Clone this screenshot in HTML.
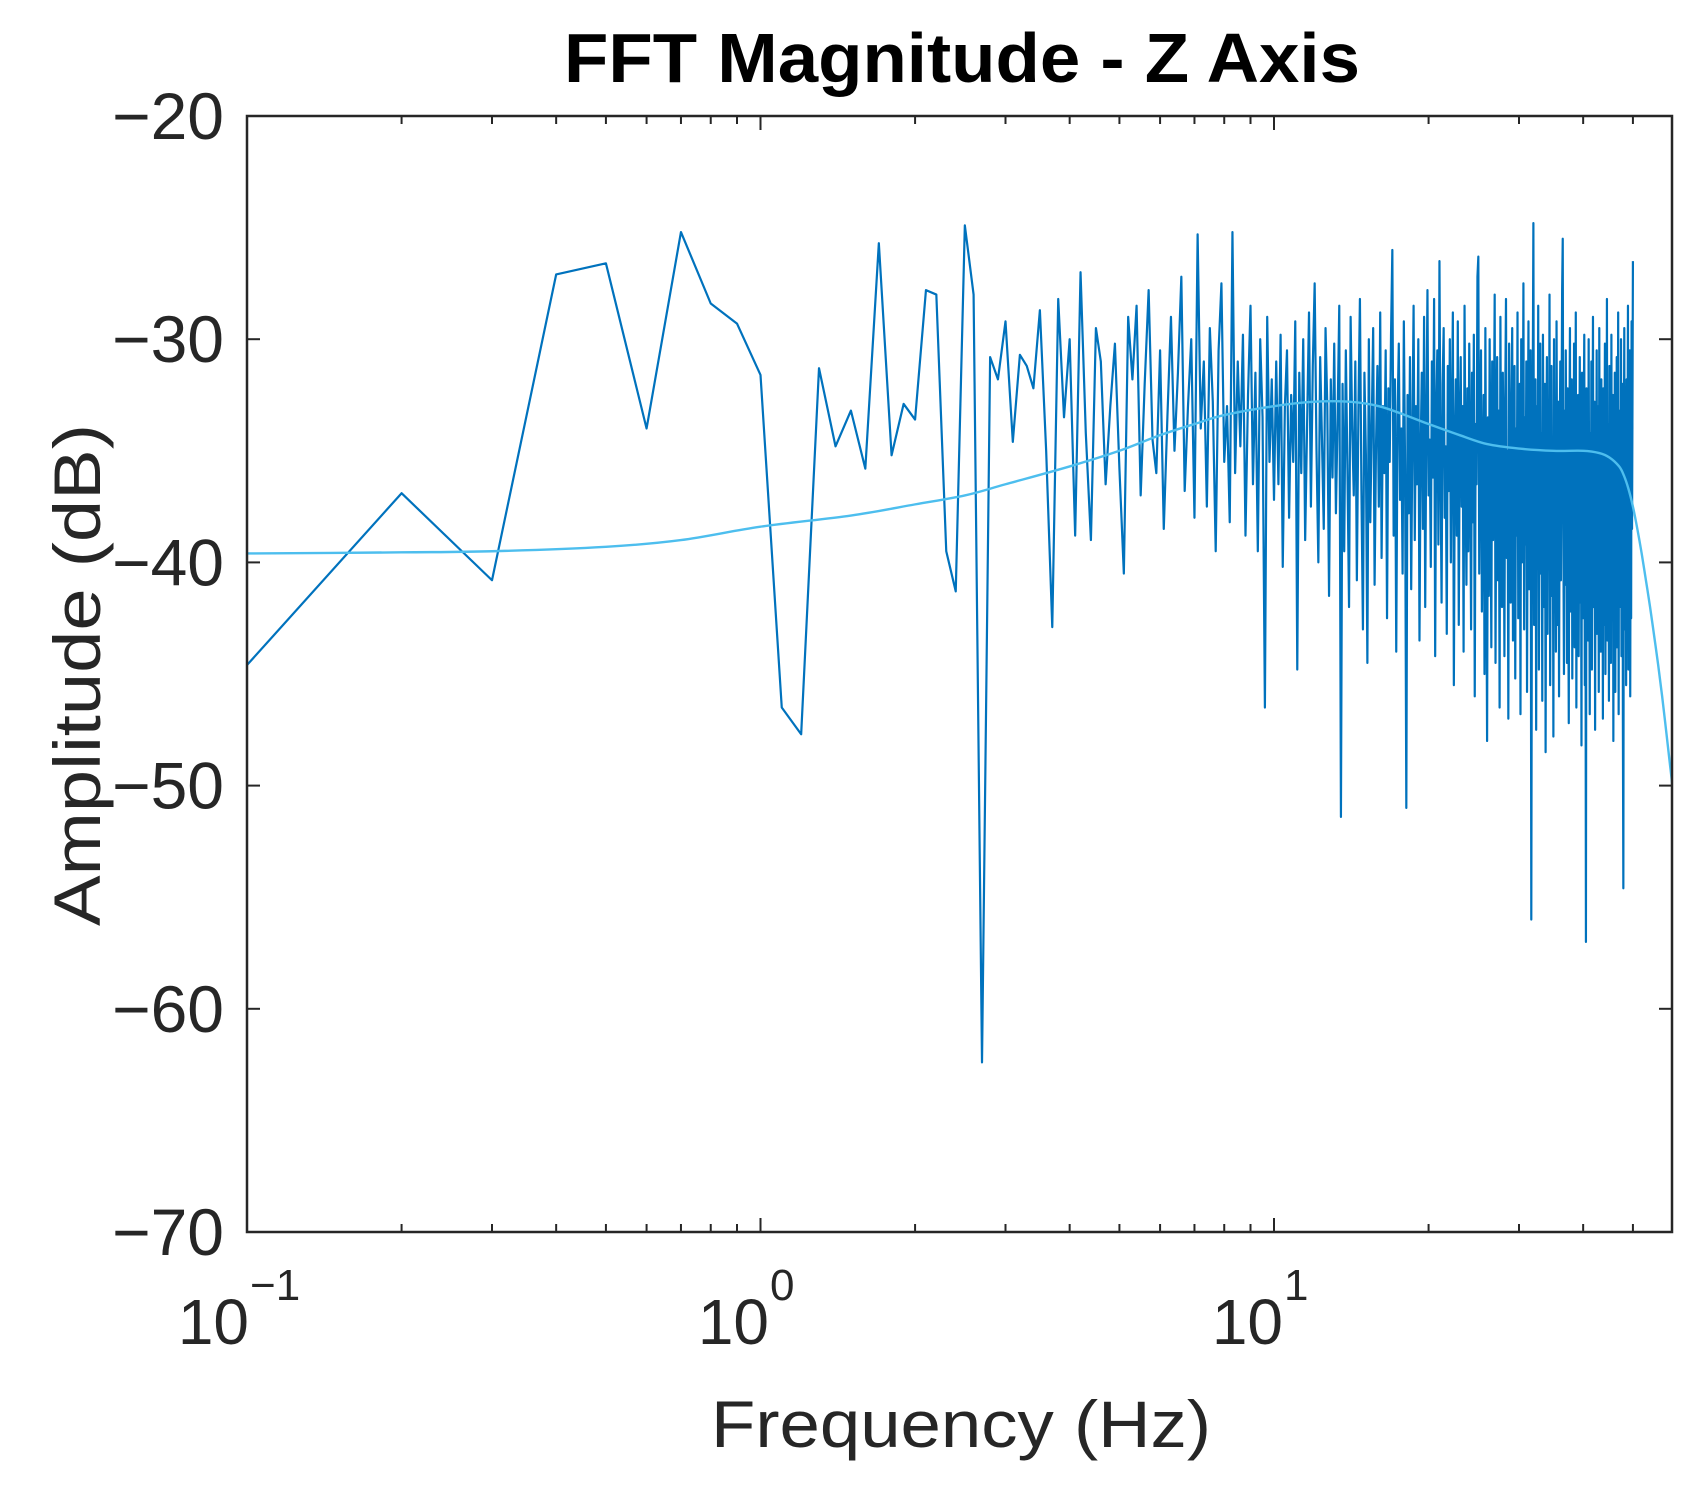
<!DOCTYPE html>
<html><head><meta charset="utf-8"><title>FFT Magnitude - Z Axis</title>
<style>html,body{margin:0;padding:0;background:#fff}svg{display:block}text{font-family:"Liberation Sans",Arial,sans-serif;fill:#262626}</style>
</head><body>
<svg id="chart" width="1704" height="1494" viewBox="0 0 1704 1494" xmlns="http://www.w3.org/2000/svg">
<defs><clipPath id="clip"><rect x="247" y="116" width="1425" height="1116"/></clipPath></defs>
<rect x="0" y="0" width="1704" height="1494" fill="#fff"/>
<text x="962" y="82" text-anchor="middle" font-size="70" font-weight="bold" textLength="796" lengthAdjust="spacingAndGlyphs" style="fill:#000">FFT Magnitude - Z Axis</text>
<g id="ticks"></g>
<g clip-path="url(#clip)">
<path id="fftLine" fill="none" stroke="#0072BD" stroke-width="2.2" stroke-linejoin="round"/>
<path id="filterLine" fill="none" stroke="#4DBEEE" stroke-width="2.4"/>
</g>
<rect x="247" y="116" width="1425" height="1116" fill="none" stroke="#262626" stroke-width="2.5"/>
<g id="ylabels"></g>
<g>
<text x="249" y="1344" text-anchor="end" font-size="64">10</text>
<text x="250" y="1300" font-size="44">−1</text>
<text x="769" y="1344" text-anchor="end" font-size="64">10</text>
<text x="770" y="1300" font-size="44">0</text>
<text x="1283" y="1344" text-anchor="end" font-size="64">10</text>
<text x="1284" y="1300" font-size="44">1</text>
</g>
<text x="961" y="1447" text-anchor="middle" font-size="66" textLength="500" lengthAdjust="spacingAndGlyphs">Frequency (Hz)</text>
<text transform="translate(100,675) rotate(-90)" text-anchor="middle" font-size="66" textLength="502" lengthAdjust="spacingAndGlyphs">Amplitude (dB)</text>
</svg>
<script>
const yTicks = [-20,-30,-40,-50,-60,-70];
const yTickLabels = ["−20","−30","−40","−50","−60","−70"];
const xMajorTicks = [0.1,1,10];
const xMinorTicks = [0.2,0.3,0.4,0.5,0.6,0.7,0.8,0.9,2,3,4,5,6,7,8,9,20,30,40,50];
const freqStep = 0.1;
const fftDb = [
-44.6,-36.9,-40.8,-27.1,-26.6,-34.0,-25.2,-28.4,-29.3,-31.6,-46.5,-47.7,-31.3,-34.8,-33.2,-35.8,-25.7,-35.2,-32.9,-33.6,-27.8,-28.0,-39.5,-41.3,-24.9,-28.0,-62.4,-30.8,-31.8,-29.2,-34.6,-30.7,-31.2,-32.2,-28.7,-35.0,-42.9,-28.2,
-33.5,-30.0,-38.8,-27.0,-34.2,-39.0,-29.5,-31.0,-36.5,-33.0,
-30.2,-35.8,-40.5,-29.0,-31.8,-28.5,-37.0,-32.0,-27.8,-34.5,
-36.0,-30.5,-38.5,-33.5,-29.0,-35.0,-31.5,-27.2,-36.8,-33.0,
-30.0,-38.0,-25.3,-34.0,-31.0,-37.5,-29.5,-32.8,-39.5,-30.5,
-27.5,-35.5,-33.0,-38.2,-25.2,-36.0,-31.0,-34.8,-29.8,-38.8,
-32.5,-28.5,-36.5,-31.5,-39.5,-30.0,-33.5,-46.5,-29.0,-35.5,
-31.8,-37.2,
-31.0,-36.5,-29.8,-40.2,-33.0,-30.5,-38.0,-32.5,-35.5,-29.2,
-44.8,-31.5,-36.0,-30.0,-39.0,-33.8,-28.8,-37.5,-31.2,-27.5,
-35.0,-40.0,-30.8,-34.5,-38.5,-29.5,-33.0,-41.5,-31.8,-36.2,
-30.2,-37.8,-33.5,-28.5,-51.4,-32.0,-39.5,-30.5,-35.8,-42.0,
-29.0,-34.0,-37.0,-31.0,-40.8,-33.2,-28.2,-36.8,-43.0,-31.5,
-35.2,-44.5,-30.0,-38.2,-33.8,-29.5,-41.0,-34.8,-31.2,-37.5,
-28.8,-39.8,-33.0,-36.0,-30.5,-42.5,-32.2,-35.5,-29.8,-26.0,
-38.8,-31.8,-44.0,-33.5,-30.2,-37.2,-34.0,-40.5,-29.2,-35.8,
-51.0,-32.5,-37.8,-30.8,-41.2,-34.2,-28.5,-39.0,-33.0,-36.5,
-30.0,-43.5,-35.0,-31.5,-38.5,-29.0,-42.0,-33.8,-27.8,-37.0,
-34.5,-40.2,-31.0,-36.2,-28.2,-44.2,-33.2,-30.5,-39.2,-26.5,
-35.8,-41.8,-32.0,-29.5,-38.0,-34.8,-43.2,-31.2,-36.8,-30.0,
-40.0,-33.5,-28.8,-45.5,-35.0,-31.8,-38.8,-29.2,-42.8,-34.0,
-30.8,-37.5,-33.0,-44.0,-28.5,-36.0,-41.0,-32.2,-39.5,-30.2,
-35.5,-43.0,-31.5,-38.2,-29.8,-46.0,-33.8,-36.5,-27.2,-26.3,
-40.5,-34.2,-30.5,-42.2,-37.0,-32.5,-45.0,-29.5,-38.5,-48.0,
-33.5,-41.5,-30.0,-36.8,-43.8,-31.0,-39.0,-34.5,-28.0,-44.5,
-35.8,-30.8,-40.8,-33.2,-46.5,-29.0,-38.0,-42.0,-31.5,-36.0,
-44.2,-32.8,-28.2,-39.8,-35.0,-47.0,-30.2,-37.2,-41.8,-33.0,
-29.5,-43.5,-36.2,-31.2,-45.2,-34.0,-38.8,-28.8,-42.5,-35.2,
-32.0,-46.8,-30.0,-40.0,-36.5,-27.5,-43.0,-33.5,-39.2,-31.0,
-45.8,-35.5,-29.2,-41.2,-34.8,-30.5,-56.0,-37.8,-32.5,-24.8,
-42.8,-36.0,-31.8,-47.5,-33.0,-39.5,-28.5,-44.8,-35.2,-30.2,
-40.5,-34.2,-46.2,-29.8,-37.5,-42.0,-32.0,-48.5,-35.8,-30.8,
-43.2,-33.8,-38.2,-28.0,-45.5,-36.8,-31.2,-41.5,-34.5,-47.8,
-30.0,-39.8,-35.0,-44.0,-29.2,-37.0,-42.8,-32.8,-46.0,-35.5,
-31.0,-40.8,-34.0,-27.8,-25.5,-38.5,-45.0,-33.2,-41.0,-30.5,
-36.2,-44.5,-32.2,-39.0,-47.2,-34.8,-29.5,-42.2,-37.8,-31.8,
-45.2,-35.2,-40.2,-30.2,-43.8,-36.5,-28.8,-46.5,-33.5,-39.2,
-32.5,-44.2,-37.2,-30.8,-41.8,-35.8,-48.2,-31.5,-38.0,-42.5,
-33.8,-29.8,-45.5,-36.0,-57.0,-32.2,-40.0,-35.0,-43.5,-30.0,
-38.8,-46.8,-34.2,-41.2,-31.0,-44.8,-36.8,-29.0,-42.0,-37.5,
-32.8,-47.5,-35.5,-40.5,-30.5,-43.2,-38.2,-33.0,-45.8,-29.5,
-41.5,-36.2,-44.0,-31.8,-39.5,-34.5,-47.0,-32.2,-42.8,-37.0,
-30.2,-45.0,-35.8,-40.8,-28.2,-43.5,-38.5,-33.8,-46.2,-31.2,
-39.8,-35.2,-44.5,-29.8,-42.2,-37.2,-32.5,-48.0,-34.8,-40.2,
-31.5,-45.8,-36.5,-41.5,-30.8,-43.8,-38.0,-28.8,-46.8,-33.2,
-42.0,-35.5,-39.0,-30.0,-44.2,-37.5,-32.0,-47.2,-54.6,-36.0,
-29.5,-43.0,-38.8,-33.5,-45.5,-31.8,-41.0,-36.8,-28.5,-44.8,
-34.2,-40.5,-30.5,-46.0,-35.0,-42.5,-29.2,-38.5,-33.0,-26.5
];
const filterFreq = [0.1,0.2,0.3,0.5,0.7,1,1.5,2,2.5,3,4,5,6,7,8,10,12,14,16,18,20,23,26,30,35,40,43,45,47,48,49,50,51,52,53,54,55,56,57,58,59,60,62];
const filterDb = [-39.6,-39.55,-39.5,-39.3,-39.0,-38.4,-37.9,-37.4,-37.0,-36.5,-35.7,-35.0,-34.3,-33.8,-33.4,-33.0,-32.8,-32.8,-33.0,-33.4,-33.8,-34.3,-34.7,-34.9,-35.0,-35.0,-35.1,-35.3,-35.7,-36.1,-36.7,-37.5,-38.5,-39.6,-40.8,-42.0,-43.3,-44.6,-46.0,-47.5,-49.0,-50.5,-53.8];

const X0=247,X1=1672,Y0=116,Y1=1232,DEC=513.5;
function xScale(f){return X0+(Math.log10(f)+1)*DEC;}
function yScale(d){return Y0+(-20-d)*(Y1-Y0)/50;}
const NS="http://www.w3.org/2000/svg";

let d="";
fftDb.forEach((v,i)=>{const f=(i+1)*freqStep;d+=(i?"L":"M")+xScale(f).toFixed(2)+","+yScale(v).toFixed(2);});
document.getElementById('fftLine').setAttribute('d',d);

// smooth Catmull-Rom through filter knots
const pts=filterFreq.map((f,i)=>[xScale(f),yScale(filterDb[i])]);
let d2="M"+pts[0][0].toFixed(2)+","+pts[0][1].toFixed(2);
for(let i=0;i<pts.length-1;i++){
  const p0=pts[Math.max(0,i-1)],p1=pts[i],p2=pts[i+1],p3=pts[Math.min(pts.length-1,i+2)];
  const c1x=p1[0]+(p2[0]-p0[0])/6,c1y=p1[1]+(p2[1]-p0[1])/6;
  const c2x=p2[0]-(p3[0]-p1[0])/6,c2y=p2[1]-(p3[1]-p1[1])/6;
  d2+="C"+c1x.toFixed(2)+","+c1y.toFixed(2)+" "+c2x.toFixed(2)+","+c2y.toFixed(2)+" "+p2[0].toFixed(2)+","+p2[1].toFixed(2);
}
document.getElementById('filterLine').setAttribute('d',d2);

const tg=document.getElementById('ticks');
function line(x1,y1,x2,y2,name){const l=document.createElementNS(NS,'line');
l.setAttribute('x1',x1);l.setAttribute('y1',y1);l.setAttribute('x2',x2);l.setAttribute('y2',y2);
l.setAttribute('stroke','#262626');l.setAttribute('stroke-width','2');


tg.appendChild(l);}
yTicks.forEach(v=>{const y=yScale(v);line(X0,y,X0+13,y,'y-tick');line(X1,y,X1-13,y,'y-tick-right');});
xMajorTicks.forEach(f=>{const x=xScale(f);line(x,Y1,x,Y1-14,'x-major-tick');line(x,Y0,x,Y0+14,'x-major-tick-top');});
xMinorTicks.forEach(f=>{const x=xScale(f);line(x,Y1,x,Y1-8,'x-minor-tick');line(x,Y0,x,Y0+8,'x-minor-tick-top');});

const yl=document.getElementById('ylabels');
yTicks.forEach((v,i)=>{const t=document.createElementNS(NS,'text');
t.setAttribute('x',224);t.setAttribute('y',yScale(v)+23);t.setAttribute('text-anchor','end');t.setAttribute('font-size','66');


t.textContent=yTickLabels[i];yl.appendChild(t);});
</script>
</body></html>
